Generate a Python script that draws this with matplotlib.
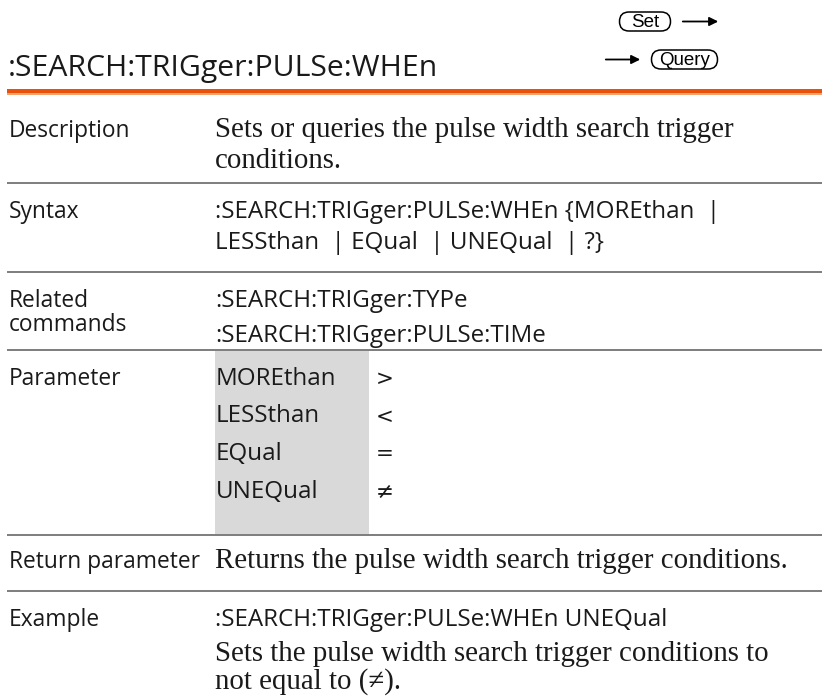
import numpy as np
import matplotlib.pyplot as plt
from matplotlib.patches import FancyBboxPatch, Rectangle

# Page content
title = ":SEARCH:TRIGger:PULSe:WHEn"
row_labels = ["Description", "Syntax", "Related", "commands", "Parameter",
              "Return parameter", "Example"]
description = ["Sets or queries the pulse width search trigger", "conditions."]
syntax = [":SEARCH:TRIGger:PULSe:WHEn {MOREthan  |", "LESSthan  | EQual  | UNEQual  | ?}"]
related = [":SEARCH:TRIGger:TYPe", ":SEARCH:TRIGger:PULSe:TIMe"]
param_names = ["MOREthan", "LESSthan", "EQual", "UNEQual"]
param_symbols = [">", "<", "=", "\u2260"]
return_text = "Returns the pulse width search trigger conditions."
example_cmd = ":SEARCH:TRIGger:PULSe:WHEn UNEQual"
example_text = ["Sets the pulse width search trigger conditions to",
                "not equal to (\u2260)."]

W, H = 822, 699
fig = plt.figure(figsize=(W / 100, H / 100), dpi=100)
ax = fig.add_axes([0, 0, 1, 1])
ax.set_xlim(0, W)
ax.set_ylim(H, 0)
ax.axis("off")
renderer = fig.canvas.get_renderer()

sans = "Open Sans"
serif = "Liberation Serif"
txt = "#1a1a1a"
x0, x1 = 9, 215


def fit(s, family, width):
    # font size that makes s about `width` pixels wide
    t = ax.text(0, 0, s, family=family, fontsize=10)
    w = t.get_window_extent(renderer).width
    t.remove()
    return 10 * width / w


fs_title = fit(title, sans, 428)
fs_label = fit(row_labels[5], sans, 191)
fs_body = np.mean([fit(param_names[0], sans, 121), fit(syntax[0], sans, 518),
                   fit(example_cmd, sans, 438)])
fs_serif = np.mean([fit(description[0], serif, 530), fit(return_text, serif, 603),
                    fit(example_text[0], serif, 516)])


def label(x, y, s, family=sans, size=None, **kw):
    ax.text(x, y, s, family=family, fontsize=size or fs_body, color=txt,
            va="baseline", **kw)


# title and orange rule
label(8, 76, title, size=fs_title)
ax.add_patch(Rectangle((x0 - 2, 89), W, 3.5, color="#e8520a", lw=0))
ax.add_patch(Rectangle((x0 - 2, 92.5), W, 2, color="#f6a36e", lw=0))


# Set / Query badges
def badge(x, y, w, h, s):
    ax.add_patch(FancyBboxPatch((x + h / 2, y), w - h, h,
                                boxstyle="round,pad=0,rounding_size=%f" % (h / 2),
                                fc="white", ec="black", lw=1.1))
    ax.text(x + w / 2, y + h / 2 + 1, s, family="Liberation Sans",
            fontsize=13.5, ha="center", va="center")


badge(610, 12, 70, 19, "Set")
ax.annotate("", xy=(721, 21.5), xytext=(680, 21.5),
            arrowprops=dict(arrowstyle="-|>", color="black", lw=1.3,
                            mutation_scale=13))
badge(642, 50, 85, 19, "Query")
ax.annotate("", xy=(643, 59.5), xytext=(603, 59.5),
            arrowprops=dict(arrowstyle="-|>", color="black", lw=1.3,
                            mutation_scale=13))


def rule(y):
    ax.add_patch(Rectangle((x0 - 2, y - 1.2), W, 2.4, color="#808080", lw=0))


# Description
label(x0, 137, row_labels[0], size=fs_label)
for i, s in enumerate(description):
    label(x1, 137 + 31 * i, s, family=serif, size=fs_serif)
rule(183)

# Syntax
label(x0, 218, row_labels[1], size=fs_label)
for i, s in enumerate(syntax):
    label(x1, 218 + 31 * i, s)
rule(272)

# Related commands
label(x0, 307, row_labels[2], size=fs_label)
label(x0, 331, row_labels[3], size=fs_label)
for i, s in enumerate(related):
    label(x1, 307 + 35 * i, s)
rule(350)

# Parameter table
ax.add_patch(Rectangle((x1, 351), 154, 183, color="#d9d9d9", lw=0))
label(x0, 385, row_labels[4], size=fs_label)
for i, (n, s) in enumerate(zip(param_names, param_symbols)):
    y = 385 + 37.5 * i
    label(x1 + 1, y, n)
    label(376, y, s, family="DejaVu Sans", size=fs_body - 2)
rule(535)

# Return parameter
label(x0, 568, row_labels[5], size=fs_label)
label(x1, 568, return_text, family=serif, size=fs_serif)
rule(591)

# Example
label(x0, 626, row_labels[6], size=fs_label)
label(x1, 626, example_cmd)
for i, s in enumerate(example_text):
    label(x1, 661 + 28 * i, s, family=serif, size=fs_serif)

fig.savefig("out.png", dpi=100)
